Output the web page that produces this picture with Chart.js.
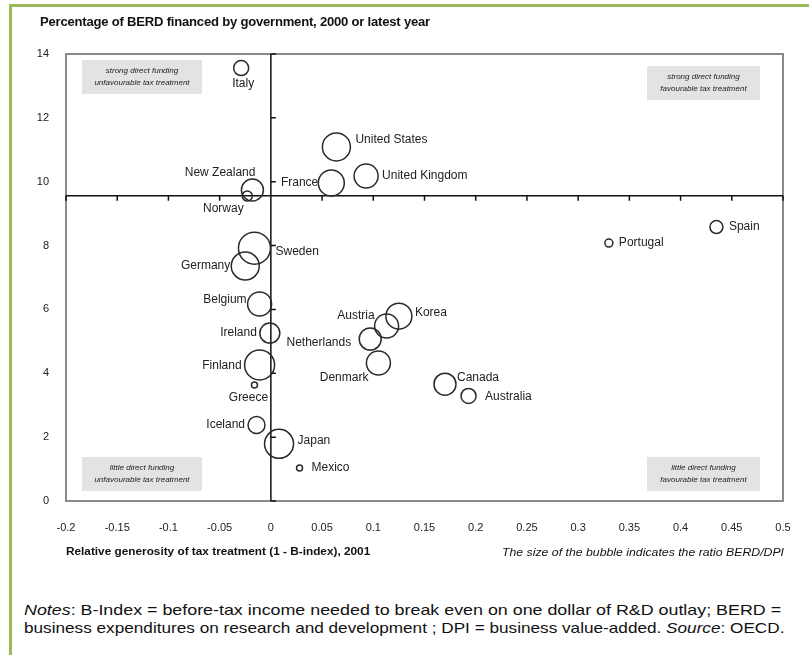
<!DOCTYPE html>
<html>
<head>
<meta charset="utf-8">
<script src="https://cdn.jsdelivr.net/npm/chart.js@4.4.1/dist/chart.umd.min.js"></script>
<style>
  body { margin: 0; background: #fff; font-family: "Liberation Sans", Arial, sans-serif; color: #111; }
  #page { position: relative; width: 809px; height: 655px; overflow: hidden; }
  #frame { position: absolute; left: 9px; top: 4px; width: 830px; height: 700px;
           border-left: 3px solid #9bbb59; border-top: 3px solid #9bbb59; }
  #chart { position: absolute; left: 0; top: 0; }
  .txt { position: absolute; white-space: nowrap; transform-origin: 0 50%; }
  #ytitle { left: 40px; top: 14px; font-size: 12px; font-weight: bold; line-height: 16px;
            letter-spacing: -0.2px; transform: scaleX(1.09); }
  #sizeNote { left: 502px; top: 545px; font-size: 10.5px; font-style: italic; line-height: 14px; transform: scaleX(1.17); }
  .note { left: 24px; font-size: 15px; line-height: 18px; }
  #note1 { top: 601px; transform: scaleX(1.19); }
  #note2 { top: 619px; transform: scaleX(1.145); }
</style>
</head>
<body>
<div id="page">
  <div id="frame"></div>
  <canvas id="chart" width="809" height="575"></canvas>
  <div class="txt" id="ytitle">Percentage of BERD financed by government, 2000 or latest year</div>
  <div class="txt" id="sizeNote">The size of the bubble indicates the ratio BERD/DPI</div>
  <div class="txt note" id="note1"><i>Notes</i>: B-Index = before-tax income needed to break even on one dollar of R&amp;D outlay; BERD =</div>
  <div class="txt note" id="note2">business expenditures on research and development ; DPI = business value-added. <i>Source</i>: OECD.</div>
</div>
<script>
// Countries and their values
const countries = ["Italy", "United States", "France", "United Kingdom", "New Zealand", "Norway",
    "Sweden", "Germany", "Belgium", "Ireland", "Finland", "Greece", "Iceland", "Japan", "Mexico",
    "Austria", "Korea", "Netherlands", "Denmark", "Canada", "Australia", "Portugal", "Spain"];
// 1 - B-index, 2001
const taxGenerosity = [-0.029, 0.064, 0.059, 0.093, -0.018, -0.023,
    -0.016, -0.025, -0.011, -0.001, -0.011, -0.016, -0.014, 0.008, 0.028,
    0.113, 0.125, 0.097, 0.105, 0.170, 0.193, 0.330, 0.435];
// % of BERD financed by government
const govShare = [13.56, 11.09, 9.96, 10.18, 9.74, 9.55,
    7.92, 7.36, 6.17, 5.26, 4.26, 3.63, 2.38, 1.79, 1.03,
    5.48, 5.79, 5.07, 4.32, 3.66, 3.29, 8.08, 8.58];
// bubble size (BERD/DPI)
const bubbleSize = [7.5, 14, 13, 12, 11, 5,
    16, 14, 12, 10, 15, 3, 8.5, 14.5, 3,
    12, 13, 11, 12, 11, 7.5, 4, 6.5];
// where the quadrant lines cross
const crossX = 0;
const crossY = 9.56;
const xTicks = { min: -0.2, max: 0.5, step: 0.05 };
const yTicks = { min: 0, max: 14, step: 2 };

// label placement: side + [dx, dy] nudge
const labelSide = ["b", "r", "l", "r", "l", "b",
    "r", "l", "l", "l", "l", "b", "l", "r", "r",
    "l", "r", "l", "l", "r", "r", "r", "r"];
const labelNudge = [[2, 0], [1, -7], [4, 0], [0, 0], [18, -17], [-24, 0],
    [1, 4], [3, 0], [3, -4], [1, 0], [1, 1], [-6, 2], [1, 0], [0, -3], [5, 0],
    [4, -10], [-1, -3], [-4, 4], [6, 15], [-3, -6], [5, 1], [2, 0], [2, 0]];

const quadrants = [
    { pos: "tl", lines: ["strong direct funding", "unfavourable tax treatment"] },
    { pos: "tr", lines: ["strong direct funding", "favourable tax treatment"] },
    { pos: "bl", lines: ["little direct funding", "unfavourable tax treatment"] },
    { pos: "br", lines: ["little direct funding", "favourable tax treatment"] }
];

const points = countries.map((c, i) => ({ x: taxGenerosity[i], y: govShare[i], r: bubbleSize[i] }));

const overlay = {
    id: "overlay",
    beforeDatasetsDraw(chart) {
        const { ctx, chartArea: a, scales: { x, y } } = chart;
        ctx.save();
        // quadrant notes
        ctx.font = "italic 8px 'Liberation Sans', Arial";
        ctx.textAlign = "center";
        ctx.textBaseline = "middle";
        quadrants.forEach(q => {
            const left = q.pos[1] === "l";
            const w = left ? 120 : 113, h = 34;
            const bx = left ? a.left + 16 : a.right - 136;
            const by = q.pos[0] === "t" ? a.top + (left ? 6 : 12) : a.bottom - 44;
            ctx.fillStyle = "#e3e3e3";
            ctx.fillRect(bx, by, w, h);
            ctx.fillStyle = "#222";
            ctx.fillText(q.lines[0], bx + w / 2, by + h / 2 - 6);
            ctx.fillText(q.lines[1], bx + w / 2, by + h / 2 + 6);
        });
        // plot frame
        ctx.strokeStyle = "#8a8a8a";
        ctx.lineWidth = 2;
        ctx.strokeRect(a.left, a.top, a.right - a.left, a.bottom - a.top);
        // crossing lines with ticks
        const cx = x.getPixelForValue(crossX);
        const cy = y.getPixelForValue(crossY);
        ctx.strokeStyle = "#111";
        ctx.lineWidth = 1.5;
        ctx.beginPath();
        ctx.moveTo(a.left, cy); ctx.lineTo(a.right, cy);
        ctx.moveTo(cx, a.top); ctx.lineTo(cx, a.bottom);
        x.ticks.forEach(t => {
            const px = x.getPixelForValue(t.value);
            ctx.moveTo(px, cy); ctx.lineTo(px, cy + 5);
        });
        y.ticks.forEach(t => {
            const py = y.getPixelForValue(t.value);
            ctx.moveTo(cx, py); ctx.lineTo(cx + 5, py);
        });
        ctx.stroke();
        ctx.restore();
    },
    afterDatasetsDraw(chart) {
        const { ctx } = chart;
        const meta = chart.getDatasetMeta(0);
        ctx.save();
        ctx.font = "12px 'Liberation Sans', Arial";
        ctx.fillStyle = "#222";
        ctx.textBaseline = "middle";
        meta.data.forEach((el, i) => {
            const r = el.options.radius;
            const [dx, dy] = labelNudge[i];
            let tx = el.x, ty = el.y;
            if (labelSide[i] === "r") { ctx.textAlign = "left"; tx += r + 4; }
            else if (labelSide[i] === "l") { ctx.textAlign = "right"; tx -= r + 4; }
            else { ctx.textAlign = "center"; ty += r + 8; }
            ctx.fillText(countries[i], tx + dx, ty + dy);
        });
        ctx.restore();
    }
};

new Chart(document.getElementById("chart"), {
    type: "bubble",
    data: {
        datasets: [{
            data: points,
            backgroundColor: "rgba(0,0,0,0)",
            borderColor: "#2a2a2a",
            borderWidth: 1.5,
            hoverBorderWidth: 1.5
        }]
    },
    options: {
        responsive: false,
        animation: false,
        layout: { padding: { left: 6, top: 54, right: 26, bottom: 14 } },
        plugins: {
            legend: { display: false },
            tooltip: { enabled: false }
        },
        scales: {
            x: {
                type: "linear",
                min: xTicks.min,
                max: xTicks.max,
                grid: { display: false },
                border: { display: false },
                ticks: {
                    stepSize: xTicks.step,
                    padding: 12,
                    color: "#222",
                    font: { size: 11, family: "'Liberation Sans', Arial" },
                    callback: v => String(Math.round(v * 100) / 100)
                },
                title: {
                    display: true,
                    align: "start",
                    text: "Relative generosity of tax treatment (1 - B-index), 2001",
                    color: "#111",
                    font: { size: 11.8, weight: "bold", family: "'Liberation Sans', Arial" },
                    padding: { top: 4, bottom: 2 }
                },
                afterFit: s => { s.height = 60; }
            },
            y: {
                min: yTicks.min,
                max: yTicks.max,
                grid: { display: false },
                border: { display: false },
                ticks: {
                    stepSize: yTicks.step,
                    padding: 9,
                    color: "#222",
                    font: { size: 11, family: "'Liberation Sans', Arial" }
                },
                afterFit: s => { s.width = 60; }
            }
        }
    },
    plugins: [overlay]
});
</script>
</body>
</html>
